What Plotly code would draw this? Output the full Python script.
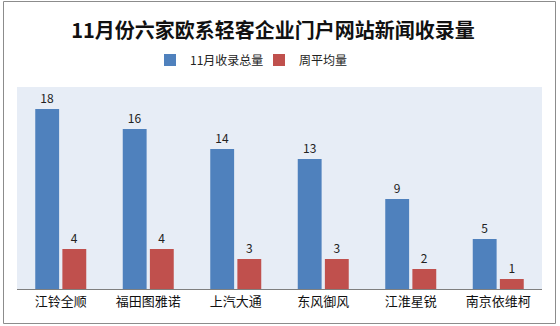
import plotly.graph_objects as go

categories = ["江铃全顺", "福田图雅诺", "上汽大通", "东风御风", "江淮星锐", "南京依维柯"]
total_nov = [18, 16, 14, 13, 9, 5]
weekly_avg = [4, 4, 3, 3, 2, 1]
series_names = ["11月收录总量", "周平均量"]
title_text = "11月份六家欧系轻客企业门户网站新闻收录量"

FONT = "Noto Sans CJK SC, Microsoft YaHei, sans-serif"

fig = go.Figure()
fig.add_trace(go.Bar(
    x=categories, y=total_nov, name=series_names[0],
    marker=dict(color="#4F81BD", line=dict(width=0)),
    text=total_nov, textposition="outside", cliponaxis=False,
    textfont=dict(size=12, color="#222222", family=FONT),
    legend="legend", showlegend=True,
))
fig.add_trace(go.Bar(
    x=categories, y=weekly_avg, name=series_names[1],
    marker=dict(color="#C0504D", line=dict(width=0)),
    text=weekly_avg, textposition="outside", cliponaxis=False,
    textfont=dict(size=12, color="#222222", family=FONT),
    legend="legend2", showlegend=True,
))

L, R, T, B = 17, 18, 87, 37
W, H = 560, 326
pw, ph = W - L - R, H - T - B

def px_x(x):
    return (x - L) / pw

def px_y(y):
    return (H - B - y) / ph

leg_common = dict(
    orientation="h", xanchor="left", yanchor="middle",
    font=dict(size=12, color="#222222", family=FONT),
    itemwidth=30, bgcolor="rgba(0,0,0,0)", visible=True,
)

fig.update_layout(
    width=W, height=H,
    margin=dict(l=L, r=R, t=T, b=B),
    paper_bgcolor="white",
    plot_bgcolor="#E7EDF6",
    barmode="group",
    bargap=0.38,
    bargroupgap=0.12,
    showlegend=True,
    font=dict(family=FONT, color="#222222"),
    title=dict(
        text="<b>" + title_text + "</b>",
        x=273 / W, xanchor="center", xref="container",
        y=1 - 31 / H, yanchor="middle", yref="container",
        font=dict(size=20, color="#111111", family=FONT),
    ),
    legend=dict(x=px_x(150), y=px_y(60), **leg_common),
    legend2=dict(x=px_x(259), y=px_y(60), **leg_common),
    xaxis=dict(
        showline=True, linecolor="#7F7F7F", linewidth=1,
        ticks="", showgrid=False,
        tickfont=dict(size=13, color="#111111", family=FONT),
    ),
    yaxis=dict(
        range=[0, 20.2], visible=False, showgrid=False, zeroline=False,
    ),
    shapes=[dict(
        type="rect", xref="paper", yref="paper",
        x0=px_x(3.5), x1=px_x(555.5), y0=px_y(323.5), y1=px_y(1.5),
        line=dict(color="#8C8C8C", width=1), fillcolor="rgba(0,0,0,0)",
        layer="below",
    )],
)

fig.write_html("out.html")
